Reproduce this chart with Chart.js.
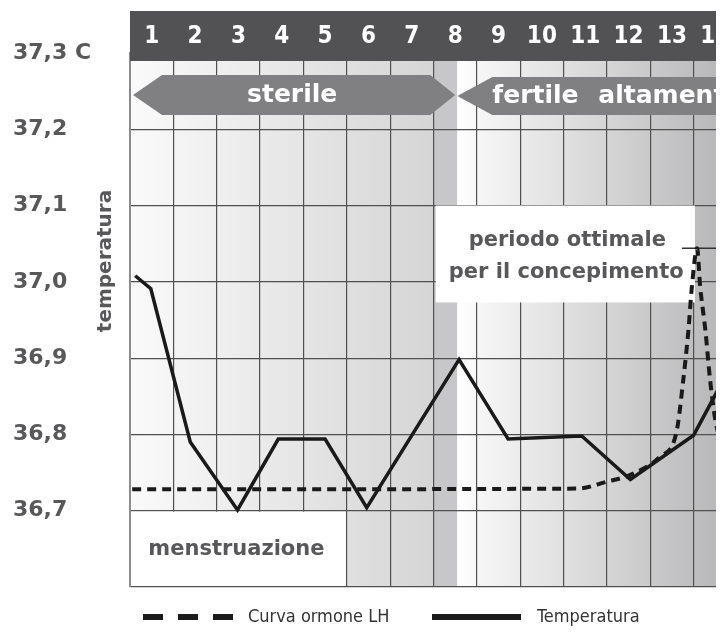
<!DOCTYPE html>
<html>
<head>
<meta charset="utf-8">
<title>Temperatura basale</title>
<script src="https://cdn.jsdelivr.net/npm/chart.js@4.4.1/dist/chart.umd.min.js"></script>
<style>
    html, body { margin: 0; padding: 0; background: #fff; overflow: hidden; }
    #wrap { position: absolute; left: 0; top: 0; width: 716px; height: 633px; overflow: hidden; }
    canvas { display: block; }
</style>
</head>
<body>
<div id="wrap"><canvas id="cycleChart" width="740" height="633"></canvas></div>
<script>
// Days of the cycle (one column each)
const dayLabels = ['1', '2', '3', '4', '5', '6', '7', '8', '9', '10', '11', '12', '13', '14'];

// Temperature axis
const yTickValues = [36.6, 36.7, 36.8, 36.9, 37.0, 37.1, 37.2, 37.3];
const yTickLabels = ['', '36,7', '36,8', '36,9', '37,0', '37,1', '37,2', '37,3 C'];

// Basal temperature (x in columns from the start of day 1)
const tempDays = [0.12, 0.48, 1.39, 2.48, 3.42, 4.5, 5.46, 7.59, 8.72, 10.42, 11.54, 13.0, 13.65];
const tempValues = [37.008, 36.991, 36.790, 36.701, 36.794, 36.794, 36.704, 36.898, 36.794, 36.798, 36.741, 36.799, 36.868];

// LH hormone curve
const lhDays = [0.05, 10.31, 11.0, 11.54, 12.23, 12.6, 12.76, 12.88, 12.96, 13.08, 13.15, 13.27, 13.38, 13.5, 13.62];
const lhValues = [36.728, 36.729, 36.738, 36.747, 36.771, 36.802, 36.871, 36.937, 36.994, 37.044, 36.994, 36.937, 36.871, 36.819, 36.79];

// short mark at the LH peak
const peakDays = [12.73, 13.93];
const peakValues = [37.044, 37.044];

const legendLabels = ['Curva ormone LH', 'Temperatura'];

const labelGray = '#58585a';
const boldFont = "'DejaVu Sans', sans-serif";
const condFont = "'DejaVu Sans Condensed', 'DejaVu Sans', sans-serif";

const toPoints = (xs, ys) => xs.map((x, i) => ({ x: x, y: ys[i] }));

function arrowPath(ctx, pts) {
    ctx.beginPath();
    pts.forEach((p, i) => i ? ctx.lineTo(p[0], p[1]) : ctx.moveTo(p[0], p[1]));
    ctx.closePath();
    ctx.fill();
}

const decorPlugin = {
    id: 'decor',
    beforeDraw(chart) {
        const { ctx, chartArea: a, scales: { x } } = chart;
        const x0 = x.getPixelForValue(0), x7 = x.getPixelForValue(7);
        const xb = x.getPixelForValue(7.55), x14 = x.getPixelForValue(14);
        ctx.save();
        // sterile days background
        let g = ctx.createLinearGradient(x0, 0, x7, 0);
        g.addColorStop(0, '#fafafa');
        g.addColorStop(1, '#d5d5d6');
        ctx.fillStyle = g;
        ctx.fillRect(x0, a.top, x7 - x0, a.bottom - a.top);
        // transition band
        ctx.fillStyle = '#c7c7c9';
        ctx.fillRect(x7, a.top, xb - x7, a.bottom - a.top);
        // fertile days background
        g = ctx.createLinearGradient(xb, 0, x14, 0);
        g.addColorStop(0, '#ffffff');
        g.addColorStop(0.08, '#f6f6f6');
        g.addColorStop(1, '#b3b3b5');
        ctx.fillStyle = g;
        ctx.fillRect(xb, a.top, x14 - xb, a.bottom - a.top);
        ctx.restore();
    },
    beforeDatasetsDraw(chart) {
        const { ctx, scales: { x, y } } = chart;
        ctx.save();

        // dark header with the day numbers
        ctx.fillStyle = '#525254';
        ctx.fillRect(x.getPixelForValue(0), 11, x.getPixelForValue(14) - x.getPixelForValue(0), 50);

        // arrows
        const cy = 95, h = 20;
        ctx.fillStyle = '#808083';
        const s0 = x.getPixelForValue(0.07), s1 = x.getPixelForValue(7.5);
        arrowPath(ctx, [[s0, cy], [s0 + 29, cy - h], [s1 - 25, cy - h], [s1, cy], [s1 - 25, cy + h], [s0 + 29, cy + h]]);
        const f0 = x.getPixelForValue(7.55), f1 = x.getPixelForValue(14) + 5;
        arrowPath(ctx, [[f0, cy + 1], [f0 + 35, cy - h + 2], [f1, cy - h + 2], [f1, cy + h], [f0 + 35, cy + h]]);

        ctx.fillStyle = '#ffffff';
        ctx.font = 'bold 25px ' + boldFont;
        ctx.textBaseline = 'middle';
        ctx.textAlign = 'center';
        ctx.fillText('sterile', x.getPixelForValue(3.74), cy);
        ctx.textAlign = 'left';
        ctx.fillText('fertile', f0 + 35, cy + 1);
        ctx.fillText('altamente', f0 + 141, cy + 1);

        // menstruation box
        const m0 = x.getPixelForValue(0), m1 = x.getPixelForValue(5);
        const mt = y.getPixelForValue(36.7), mb = y.getPixelForValue(36.6);
        ctx.fillStyle = '#ffffff';
        ctx.fillRect(m0 + 1.5, mt + 1, m1 - m0 - 2.5, mb - mt - 2);
        ctx.fillStyle = labelGray;
        ctx.font = 'bold 21px ' + boldFont;
        ctx.textAlign = 'center';
        ctx.fillText('menstruazione', (m0 + m1) / 2 - 2, (mt + mb) / 2 + 1);

        // optimal period box
        const p0 = x.getPixelForValue(7.05), p1 = x.getPixelForValue(13.03);
        const pt = y.getPixelForValue(37.1), pb = y.getPixelForValue(36.973);
        ctx.fillStyle = '#ffffff';
        ctx.fillRect(p0, pt, p1 - p0, pb - pt);
        ctx.fillStyle = labelGray;
        ctx.fillText('periodo ottimale', (p0 + p1) / 2 + 2, pt + 35);
        ctx.fillText('per il concepimento', (p0 + p1) / 2 + 1, pt + 67);
        ctx.restore();
    },
    afterDraw(chart) {
        const { ctx } = chart;
        ctx.save();
        // axis title
        ctx.translate(106, 261);
        ctx.rotate(-Math.PI / 2);
        ctx.fillStyle = labelGray;
        ctx.font = 'bold 20px ' + boldFont;
        ctx.textAlign = 'center';
        ctx.textBaseline = 'middle';
        ctx.fillText('temperatura', 0, 0);
        ctx.restore();

        // legend
        const ly = 617;
        ctx.save();
        ctx.strokeStyle = '#1a1a1a';
        ctx.lineWidth = 6;
        ctx.setLineDash([20, 15]);
        ctx.beginPath();
        ctx.moveTo(143, ly);
        ctx.lineTo(233, ly);
        ctx.stroke();
        ctx.setLineDash([]);
        ctx.beginPath();
        ctx.moveTo(432, ly);
        ctx.lineTo(521, ly);
        ctx.stroke();
        ctx.fillStyle = '#333333';
        ctx.font = '18px ' + condFont;
        ctx.textBaseline = 'middle';
        ctx.textAlign = 'left';
        ctx.fillText(legendLabels[0], 248, ly);
        ctx.fillText(legendLabels[1], 537, ly);
        ctx.restore();
    }
};

const ctx = document.getElementById('cycleChart').getContext('2d');
new Chart(ctx, {
    type: 'line',
    data: {
        datasets: [{
            label: legendLabels[0],
            data: toPoints(lhDays, lhValues),
            borderColor: '#1a1a1a',
            borderWidth: 4,
            borderDash: [9, 6],
            cubicInterpolationMode: 'monotone',
            pointRadius: 0,
            fill: false
        }, {
            label: legendLabels[1],
            data: toPoints(tempDays, tempValues),
            borderColor: '#1a1a1a',
            borderWidth: 3.5,
            borderJoinStyle: 'miter',
            tension: 0,
            pointRadius: 0,
            fill: false
        }, {
            label: 'picco LH',
            data: toPoints(peakDays, peakValues),
            borderColor: '#333333',
            borderWidth: 1.5,
            pointRadius: 0,
            fill: false
        }]
    },
    options: {
        responsive: false,
        animation: false,
        devicePixelRatio: 1,
        layout: { padding: { left: 13, top: 0, right: 3, bottom: 46 } },
        plugins: {
            legend: { display: false },
            tooltip: { enabled: false }
        },
        scales: {
            x: {
                type: 'linear',
                position: 'top',
                min: 0,
                max: 14,
                afterBuildTicks: scale => {
                    scale.ticks = dayLabels.map((d, i) => ({ value: i + 0.5 }));
                },
                afterFit: scale => { scale.height = 53; },
                ticks: {
                    z: 1,
                    autoSkip: false,
                    maxRotation: 0,
                    padding: 2,
                    color: '#ffffff',
                    font: { family: condFont, size: 24, weight: 'bold' },
                    callback: (value, index) => dayLabels[index]
                },
                grid: { offset: true, color: '#505050', lineWidth: 1.2, drawTicks: false },
                border: { display: false }
            },
            y: {
                min: 36.6,
                max: 37.3,
                afterBuildTicks: scale => {
                    scale.ticks = yTickValues.map(v => ({ value: v }));
                },
                afterFit: scale => { scale.width = 117; },
                ticks: {
                    autoSkip: false,
                    crossAlign: 'far',
                    color: labelGray,
                    font: { family: boldFont, size: 22, weight: 'bold' },
                    callback: (value, index) => yTickLabels[index]
                },
                grid: { color: '#505050', lineWidth: 1.2, drawTicks: false },
                border: { color: '#8c8c8c', width: 2 }
            }
        }
    },
    plugins: [decorPlugin]
});
</script>
</body>
</html>
